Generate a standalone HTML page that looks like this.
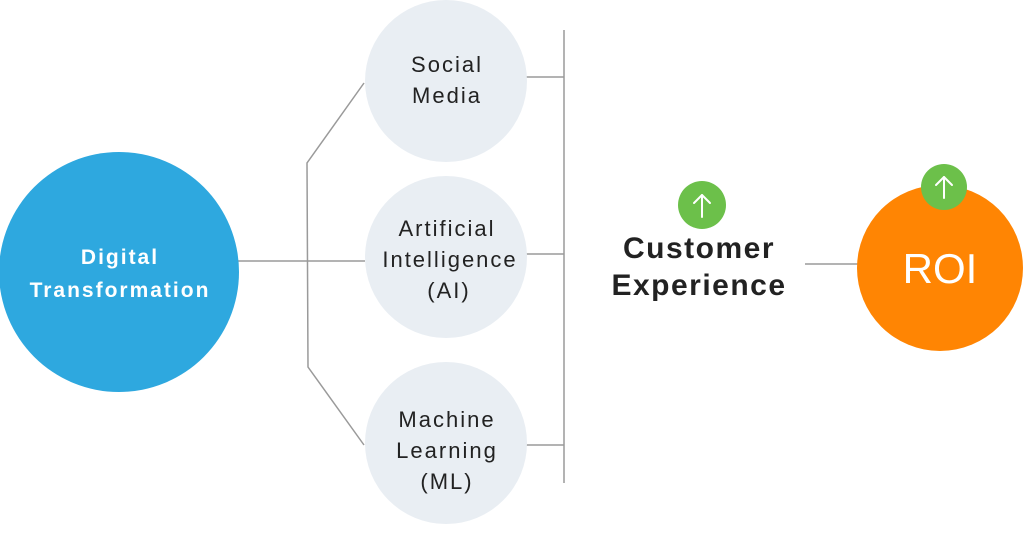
<!DOCTYPE html>
<html><head><meta charset="utf-8"><style>
html,body{margin:0;padding:0;background:#fff;}
svg{display:block;}
</style></head><body>
<svg width="1024" height="543" viewBox="0 0 1024 543" xmlns="http://www.w3.org/2000/svg" font-family="'Liberation Sans', sans-serif">
<g stroke="#9a9a9a" stroke-width="1.5" fill="none">
<line x1="230" y1="261" x2="365" y2="261"/>
<polyline points="364,83 307,163 308,367 364,445"/>
<line x1="564" y1="30" x2="564" y2="483"/>
<line x1="525" y1="77" x2="564" y2="77"/>
<line x1="525" y1="254" x2="564" y2="254"/>
<line x1="525" y1="445" x2="564" y2="445"/>
<line x1="805" y1="264" x2="860" y2="264"/>
</g>
<circle cx="119" cy="272" r="120" fill="#2ea8df"/>
<g fill="#fff" font-size="21" font-weight="bold" text-anchor="middle" letter-spacing="2">
<text x="120" y="264">Digital</text>
<text x="120" y="297">Transformation</text>
</g>
<circle cx="446" cy="81" r="81" fill="#e9eef3"/>
<circle cx="446" cy="257" r="81" fill="#e9eef3"/>
<circle cx="446" cy="443" r="81" fill="#e9eef3"/>
<g fill="#222" font-size="22" text-anchor="middle" letter-spacing="2">
<text x="447" y="72">Social</text>
<text x="447" y="103">Media</text>
<text x="447" y="236">Artificial</text>
<text x="450" y="267">Intelligence</text>
<text x="449" y="298">(AI)</text>
<text x="447" y="427">Machine</text>
<text x="447" y="458">Learning</text>
<text x="447" y="489">(ML)</text>
</g>
<g fill="#222" font-size="30" font-weight="bold" text-anchor="middle" letter-spacing="1.5">
<text x="699" y="258">Customer</text>
<text x="699" y="295">Experience</text>
</g>
<circle cx="940" cy="268" r="83" fill="#ff8503"/>
<text x="940" y="283" fill="#fff" font-size="42" text-anchor="middle">ROI</text>
<circle cx="702" cy="205" r="24" fill="#6cc04a"/>
<circle cx="944" cy="187" r="23" fill="#6cc04a"/>
<g stroke="#fff" stroke-width="2" fill="none" stroke-linecap="round" stroke-linejoin="round">
<line x1="702" y1="195" x2="702" y2="217"/>
<polyline points="694,203 702,195 710,203"/>
<line x1="944" y1="177" x2="944" y2="198"/>
<polyline points="936,185 944,177 952,185"/>
</g>
</svg>
</body></html>
